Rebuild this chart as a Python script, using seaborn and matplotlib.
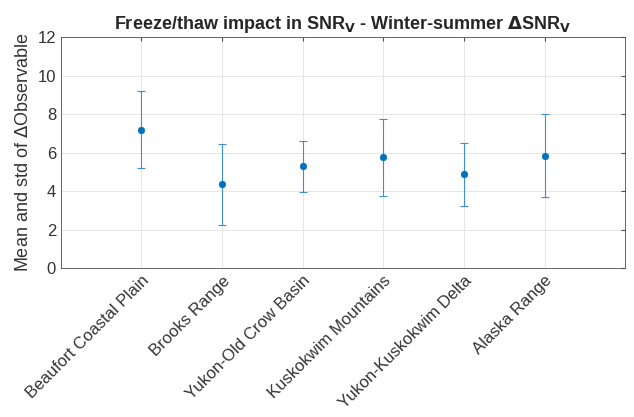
import numpy as np
import pandas as pd
import matplotlib
matplotlib.use("Agg")
import matplotlib.pyplot as plt
import seaborn as sns

# values
regions = ["Beaufort Coastal Plain", "Brooks Range", "Yukon-Old Crow Basin",
           "Kuskokwim Mountains", "Yukon-Kuskokwim Delta", "Alaska Range"]
means = [7.2, 4.35, 5.28, 5.75, 4.87, 5.85]
stds = [2.02, 2.1, 1.3, 2.02, 1.62, 2.15]
yticks = [0, 2, 4, 6, 8, 10, 12]

blue = "#0072BD"

df = pd.DataFrame({"region": regions, "mean": means, "std": stds})
df["pos"] = np.arange(1, len(regions) + 1)

sns.set_style("white")
plt.rcParams["font.family"] = ["Liberation Sans", "DejaVu Sans"]

fig = plt.figure(figsize=(6.34, 4.17), dpi=100)
ax = fig.add_axes([0.096, 0.357, 0.89, 0.554])

ax.errorbar(df["pos"], df["mean"], yerr=df["std"], fmt="none", ecolor="#3d8fcc",
            elinewidth=0.8, capsize=3, capthick=0.8, zorder=2)
sns.scatterplot(data=df, x="pos", y="mean", color=blue, s=22, edgecolor=blue,
                linewidth=0.5, ax=ax, zorder=3)

ax.set_xlim(0, len(regions) + 1)
ax.set_ylim(0, 12)
ax.set_yticks(yticks)
ax.set_xticks(df["pos"])
ax.set_xticklabels(regions, rotation=45, ha="right", rotation_mode="anchor")
ax.grid(True, color="#e6e6e6", linewidth=0.7)
ax.set_axisbelow(True)
ax.tick_params(direction="in", length=3, colors="#4d4d4d", labelsize=12,
               top=True, right=True, labelcolor="#333333")
for s in ax.spines.values():
    s.set_color("#4d4d4d")
    s.set_linewidth(0.6)

ax.set_xlabel("")
ax.set_ylabel(r"Mean and std of $\Delta$Observable", fontsize=13, color="#333333")
ax.set_title(r"Freeze/thaw impact in SNR$_\mathbf{V}$ - Winter-summer $\mathbf{\Delta}$SNR$_\mathbf{V}$",
             fontsize=13, fontweight="bold", pad=6)

fig.savefig("out.png", dpi=100)
